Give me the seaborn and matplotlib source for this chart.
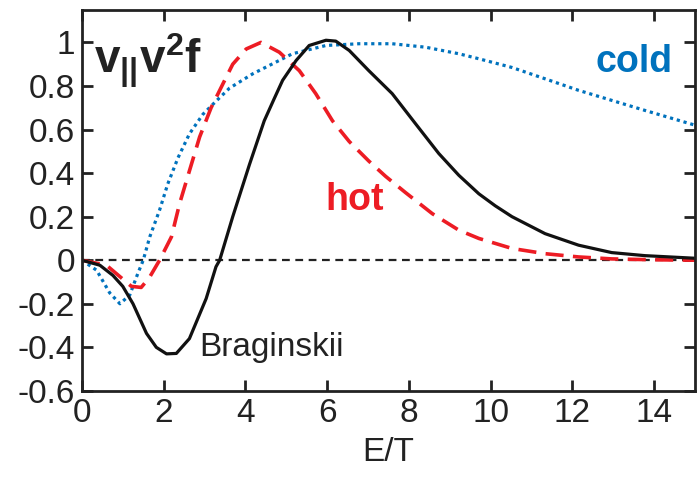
import numpy as np
import pandas as pd
import matplotlib
matplotlib.use("Agg")
import matplotlib.pyplot as plt
import seaborn as sns

# Curve data
x_brag = [0, 0.44, 0.76, 1.0, 1.25, 1.58, 1.82, 2.07, 2.31, 2.63, 3.04, 3.28, 3.37,
          3.69, 4.1, 4.46, 4.7, 4.91, 5.24, 5.56, 5.97, 6.21, 6.54, 7.02, 7.59,
          8.16, 8.73, 9.22, 9.71, 10.11, 10.52, 11.33, 12.15, 12.96, 13.77, 15.0]
y_brag = [0, -0.023, -0.07, -0.12, -0.2, -0.336, -0.40, -0.43, -0.428, -0.36,
          -0.176, -0.03, 0.0, 0.2, 0.44, 0.64, 0.74, 0.826, 0.917, 0.986, 1.01,
          1.006, 0.963, 0.87, 0.765, 0.627, 0.49, 0.39, 0.305, 0.25, 0.2, 0.122,
          0.069, 0.035, 0.021, 0.009]

x_hot = [0, 0.6, 1.21, 1.45, 1.65, 1.9, 2.19, 2.39, 2.63, 2.88, 3.16, 3.45, 3.69,
         4.02, 4.38, 4.83, 5.32, 5.72, 6.13, 6.54, 7.02, 7.43, 7.92, 8.57, 9.22,
         9.71, 10.52, 11.33, 12.15, 12.96, 14.0, 15.0]
y_hot = [0, -0.023, -0.12, -0.125, -0.08, 0.0, 0.107, 0.26, 0.41, 0.566, 0.70,
         0.81, 0.90, 0.97, 1.0, 0.955, 0.87, 0.765, 0.64, 0.545, 0.455, 0.385, 0.31,
         0.214, 0.138, 0.1, 0.054, 0.03, 0.015, 0.006, 0.002, 0.0]

x_cold = [0, 0.36, 0.68, 0.93, 1.17, 1.37, 1.5, 1.66, 1.9, 2.1, 2.35, 2.63, 2.96,
          3.28, 3.61, 4.18, 4.75, 5.15, 5.97, 6.78, 7.59, 8.41, 9.22, 9.71, 10.52,
          11.33, 12.15, 12.96, 13.77, 15.0]
y_cold = [0, -0.046, -0.15, -0.2, -0.16, -0.06, 0.0, 0.107, 0.23, 0.35, 0.47,
          0.58, 0.67, 0.73, 0.79, 0.856, 0.91, 0.948, 0.986, 0.994, 0.994, 0.978,
          0.948, 0.925, 0.885, 0.833, 0.78, 0.734, 0.688, 0.62]

x_ticks = [0, 2, 4, 6, 8, 10, 12, 14]
y_ticks = [-0.6, -0.4, -0.2, 0, 0.2, 0.4, 0.6, 0.8, 1]
y_tick_labels = ["-0.6", "-0.4", "-0.2", "0", "0.2", "0.4", "0.6", "0.8", "1"]

sns.set_style("ticks")
plt.rcParams["font.family"] = ["Liberation Sans", "DejaVu Sans"]
plt.rcParams["axes.unicode_minus"] = False
plt.rcParams["mathtext.fontset"] = "custom"
plt.rcParams["mathtext.bf"] = "Liberation Sans:bold"
plt.rcParams["mathtext.rm"] = "Liberation Sans"

blue = "#0072BD"
red = "#ED1C24"

fig, ax = plt.subplots(figsize=(7, 4.88), dpi=100)
fig.subplots_adjust(left=0.117, right=0.993, top=0.98, bottom=0.199)

ax.axhline(0, color="#222222", lw=1.6, dashes=(3.5, 2.5), zorder=1)

df_cold = pd.DataFrame({"x": x_cold, "y": y_cold})
df_hot = pd.DataFrame({"x": x_hot, "y": y_hot})
df_brag = pd.DataFrame({"x": x_brag, "y": y_brag})

sns.lineplot(data=df_cold, x="x", y="y", sort=False, ax=ax, color=blue, lw=2.3)
ax.lines[-1].set_dashes((1, 1.2))
sns.lineplot(data=df_hot, x="x", y="y", sort=False, ax=ax, color=red, lw=2.6)
ax.lines[-1].set_dashes((5, 2.6))
sns.lineplot(data=df_brag, x="x", y="y", sort=False, ax=ax, color="#111111", lw=2.3)

ax.set_xlim(0, 15)
ax.set_ylim(-0.6, 1.15)
ax.set_xticks(x_ticks)
ax.set_yticks(y_ticks)
ax.set_yticklabels(y_tick_labels)
ax.tick_params(direction="in", top=True, right=True, length=8, width=2,
               labelsize=24, pad=5, colors="#222222")
for s in ax.spines.values():
    s.set_linewidth(2)
    s.set_color("#222222")
    s.set_visible(True)

ax.set_xlabel("E/T", fontsize=24, labelpad=6, color="#222222")
ax.set_ylabel("")

ax.text(0.3, 0.915, r"$\mathbf{v_{||}v^2f}$", fontsize=33, ha="left", va="center",
        color="#222222")
ax.text(13.5, 0.91, "cold", color=blue, fontsize=27, fontweight="bold",
        ha="center", va="center")
ax.text(6.68, 0.275, "hot", color=red, fontsize=27, fontweight="bold",
        ha="center", va="center")
ax.text(4.63, -0.40, "Braginskii", color="#222222", fontsize=24,
        ha="center", va="center")

plt.savefig("out.png", dpi=100)
print("saved out.png")
